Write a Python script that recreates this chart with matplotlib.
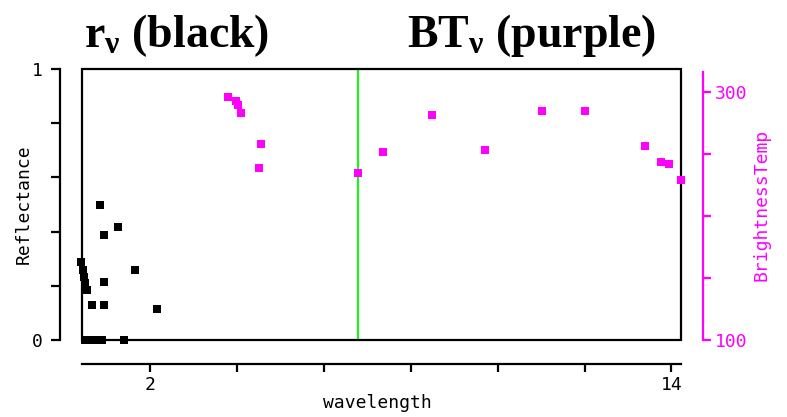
import numpy as np
import matplotlib
matplotlib.use("Agg")
import matplotlib.pyplot as plt
from matplotlib.patches import Rectangle

# ----------------------------------------------------------------------
# Data (MODIS-like bands)
# ----------------------------------------------------------------------
refl_wl = [0.41, 0.45, 0.47, 0.51, 0.54, 0.65, 0.835, 0.93, 0.93, 0.93,
           1.26, 1.64, 2.15, 1.40, 0.50, 0.57, 0.64, 0.72, 0.80, 0.90]
refl_val = [0.288, 0.258, 0.234, 0.209, 0.184, 0.130, 0.499, 0.386, 0.214, 0.130,
            0.417, 0.258, 0.116, 0.0, 0.0, 0.0, 0.0, 0.0, 0.0, 0.0]

bt_wl = [3.80, 3.98, 4.02, 4.08, 4.55, 4.51, 6.79, 7.36, 8.49, 9.71,
         11.02, 12.02, 13.38, 13.76, 13.94, 14.22]
bt_val = [296.2, 293.0, 289.5, 283.3, 258.0, 238.5, 235.0, 251.9, 281.2, 253.2,
          284.4, 284.4, 256.5, 243.3, 241.7, 228.8]

cursor_wl = 6.78

x_ticks = [2, 4, 6, 8, 10, 12, 14]
x_ticklabels = ["2", "", "", "", "", "", "14"]
r_ticks = [0, 0.2, 0.4, 0.6, 0.8, 1.0]
r_ticklabels = ["0", "", "", "", "", "1"]
bt_ticks = [100, 150, 200, 250, 300]
bt_ticklabels = ["100", "", "", "", "300"]

MAGENTA = "#ff00ff"
GREEN = "#22ee22"

plt.rcParams["mathtext.fontset"] = "custom"
plt.rcParams["mathtext.rm"] = "Liberation Serif:bold"
plt.rcParams["mathtext.it"] = "Liberation Serif:bold"
plt.rcParams["mathtext.bf"] = "Liberation Serif:bold"

mono = "DejaVu Sans Mono"
fs = 13

fig = plt.figure(figsize=(7.87, 4.17), dpi=100)
ax = fig.add_axes([82 / 787, 77 / 417, 599 / 787, 271 / 417])

# -- plot box ----------------------------------------------------------
ax.add_patch(Rectangle((0, 0), 1, 1, transform=ax.transAxes, fill=False,
                       lw=1.6, color="black", zorder=5, clip_on=False))
ax.axvline(cursor_wl, color=GREEN, lw=1.6, zorder=1)

# -- reflectance (left axis) -------------------------------------------
ax.plot(refl_wl, refl_val, "s", color="black", ms=5.8, mew=0,
        clip_on=False, zorder=3)
ax.set_xlim(0.43, 14.22)
ax.set_ylim(0, 1)
for s in ("top", "right"):
    ax.spines[s].set_visible(False)
ax.spines["left"].set_position(("outward", 16))
ax.spines["bottom"].set_position(("outward", 17))
ax.spines["left"].set_linewidth(1.6)
ax.spines["bottom"].set_linewidth(1.6)
ax.set_xticks(x_ticks, x_ticklabels, fontfamily=mono, fontsize=fs)
ax.set_yticks(r_ticks, r_ticklabels, fontfamily=mono, fontsize=fs)
ax.tick_params(axis="x", direction="out", length=6, width=1.6, pad=3)
ax.tick_params(axis="y", direction="out", length=6.5, width=1.6, pad=6)
ax.set_xlabel("wavelength", fontfamily=mono, fontsize=fs)
ax.xaxis.set_label_coords(0.4925, -0.20)
ax.set_ylabel("Reflectance", fontfamily=mono, fontsize=fs)
ax.yaxis.set_label_coords(-0.082, 0.5)

# -- brightness temperature (right axis) -------------------------------
ax2 = ax.twinx()
ax2.plot(bt_wl, bt_val, "s", color=MAGENTA, ms=5.8, mew=0,
         clip_on=False, zorder=3)
ax2.set_ylim(100, 318.5)
for s in ("top", "left", "bottom"):
    ax2.spines[s].set_visible(False)
ax2.spines["right"].set_position(("outward", 16))
ax2.spines["right"].set_color(MAGENTA)
ax2.spines["right"].set_linewidth(1.6)
ax2.spines["right"].set_bounds(100, 316)
ax2.set_yticks(bt_ticks, bt_ticklabels, fontfamily=mono, fontsize=fs)
ax2.tick_params(axis="y", direction="out", length=6, width=1.6, pad=2,
                colors=MAGENTA)
ax2.set_ylabel("BrightnessTemp", fontfamily=mono, fontsize=fs, color=MAGENTA)
ax2.yaxis.set_label_coords(1.12, 0.5)

# -- titles ------------------------------------------------------------
fig.text(84 / 787, 1 - 47 / 417, r"r$_{\nu}$ (black)", fontsize=33,
         family="Liberation Serif", weight="bold", va="baseline")
fig.text(407 / 787, 1 - 47 / 417, r"BT$_{\nu}$ (purple)", fontsize=33,
         family="Liberation Serif", weight="bold", va="baseline")

fig.savefig("out.png", dpi=100)
